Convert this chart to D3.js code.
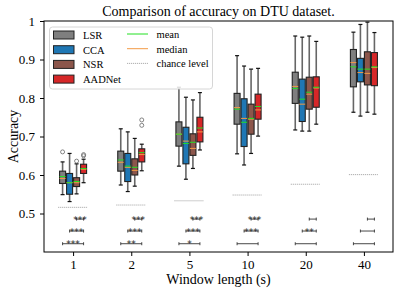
<!DOCTYPE html>
<html>
<head>
<meta charset="utf-8">
<script src="https://cdn.jsdelivr.net/npm/d3@7/dist/d3.min.js"></script>
<style>
  body { margin: 0; background: #fff; }
  svg { font-family: "Liberation Serif", "DejaVu Serif", serif; }
</style>
</head>
<body>
<script>
// window lengths (categories) and methods (hue)
var windows = ["1", "2", "5", "10", "20", "40"];
var methods = ["LSR", "CCA", "NSR", "AADNet"];
var colors = ["#7f7f7f", "#1f77b4", "#8c564b", "#d62728"];

// box stats per window: [whiskerLow, q1, median, q3, whiskerHigh, mean]
var lsrStats = [
  [0.549, 0.578, 0.591, 0.610, 0.634, 0.596],
  [0.574, 0.610, 0.633, 0.662, 0.720, 0.639],
  [0.623, 0.675, 0.706, 0.738, 0.828, 0.706],
  [0.655, 0.732, 0.775, 0.812, 0.910, 0.771],
  [0.717, 0.786, 0.830, 0.867, 0.961, 0.825],
  [0.763, 0.829, 0.892, 0.926, 0.971, 0.881]
];
var ccaStats = [
  [0.531, 0.550, 0.580, 0.604, 0.656, 0.580],
  [0.557, 0.583, 0.620, 0.656, 0.712, 0.623],
  [0.589, 0.629, 0.688, 0.724, 0.802, 0.682],
  [0.626, 0.674, 0.747, 0.798, 0.883, 0.737],
  [0.714, 0.739, 0.784, 0.849, 0.958, 0.797],
  [0.753, 0.842, 0.866, 0.903, 0.991, 0.875]
];
var nsrStats = [
  [0.551, 0.570, 0.580, 0.593, 0.629, 0.583],
  [0.571, 0.600, 0.612, 0.642, 0.695, 0.620],
  [0.617, 0.651, 0.669, 0.707, 0.795, 0.685],
  [0.656, 0.706, 0.745, 0.784, 0.875, 0.747],
  [0.714, 0.771, 0.810, 0.854, 0.961, 0.815],
  [0.763, 0.834, 0.864, 0.920, 0.997, 0.875]
];
var aadnetStats = [
  [0.580, 0.604, 0.615, 0.628, 0.641, 0.617],
  [0.611, 0.634, 0.653, 0.668, 0.680, 0.658],
  [0.665, 0.686, 0.712, 0.750, 0.814, 0.722],
  [0.701, 0.745, 0.769, 0.810, 0.877, 0.778],
  [0.732, 0.776, 0.826, 0.855, 0.947, 0.828],
  [0.758, 0.832, 0.879, 0.918, 0.970, 0.881]
];
var allStats = [lsrStats, ccaStats, nsrStats, aadnetStats];

// outliers: [window index, method index, value]
var outliers = [
  [0, 0, 0.660], [0, 2, 0.636], [0, 3, 0.650], [0, 3, 0.653],
  [1, 3, 0.729], [1, 3, 0.743]
];

var chanceLevel = [0.516, 0.522, 0.533, 0.548, 0.576, 0.601];

// significance of AADNet vs each baseline
var sigVsNSR = ["***", "***", "***", "***", "", ""];
var sigVsCCA = ["***", "***", "***", "***", "**", ""];
var sigVsLSR = ["***", "**", "*", "", "", ""];

var yTicks = [0.5, 0.6, 0.7, 0.8, 0.9, 1];

var W = 399, H = 292;
var margin = {left: 44, right: 6, top: 21, bottom: 40};

var svg = d3.select("body").append("svg")
  .attr("width", W).attr("height", H);

var x = d3.scalePoint().domain(windows)
  .range([margin.left, W - margin.right]).padding(0.5);
var y = d3.scaleLinear().domain([0.4, 1])
  .range([H - margin.bottom, margin.top]);

var hueStep = 7, boxW = 6, capW = 4;
function cx(i, j){ return x(windows[i]) + (j - 1.5) * hueStep; }

// chance level lines
svg.append("g").selectAll("line").data(chanceLevel).enter().append("line")
  .attr("x1", function(d, i){ return x(windows[i]) - 15; })
  .attr("x2", function(d, i){ return x(windows[i]) + 14; })
  .attr("y1", function(d){ return y(d); })
  .attr("y2", function(d){ return y(d); })
  .style("stroke", "#999").style("stroke-width", 0.8)
  .style("stroke-dasharray", "1.2,0.8");

// boxes
var boxG = svg.append("g");
allStats.forEach(function(stats, j){
  var g = boxG.append("g").selectAll("g").data(stats).enter().append("g");
  // whiskers
  g.append("line")
    .attr("x1", function(d, i){ return cx(i, j); })
    .attr("x2", function(d, i){ return cx(i, j); })
    .attr("y1", function(d){ return y(d[0]); })
    .attr("y2", function(d){ return y(d[4]); })
    .style("stroke", "#666").style("stroke-width", 1.6);
  // caps
  [0, 4].forEach(function(k){
    g.append("line")
      .attr("x1", function(d, i){ return cx(i, j) - capW / 2; })
      .attr("x2", function(d, i){ return cx(i, j) + capW / 2; })
      .attr("y1", function(d){ return y(d[k]); })
      .attr("y2", function(d){ return y(d[k]); })
      .style("stroke", "#111").style("stroke-width", 1.2);
  });
  // box
  g.append("rect")
    .attr("x", function(d, i){ return cx(i, j) - boxW / 2; })
    .attr("y", function(d){ return y(d[3]); })
    .attr("width", boxW)
    .attr("height", function(d){ return y(d[1]) - y(d[3]); })
    .style("fill", colors[j])
    .style("stroke", "#222").style("stroke-width", 1.1);
  // median
  g.append("line")
    .attr("x1", function(d, i){ return cx(i, j) - boxW / 2; })
    .attr("x2", function(d, i){ return cx(i, j) + boxW / 2; })
    .attr("y1", function(d){ return y(d[2]); })
    .attr("y2", function(d){ return y(d[2]); })
    .style("stroke", "#f39a45").style("stroke-width", 1);
  // mean
  g.append("line")
    .attr("x1", function(d, i){ return cx(i, j) - boxW / 2; })
    .attr("x2", function(d, i){ return cx(i, j) + boxW / 2; })
    .attr("y1", function(d){ return y(d[5]); })
    .attr("y2", function(d){ return y(d[5]); })
    .style("stroke", "#22e022").style("stroke-width", 1);
});

// outliers
svg.append("g").selectAll("circle").data(outliers).enter().append("circle")
  .attr("cx", function(d){ return cx(d[0], d[1]); })
  .attr("cy", function(d){ return y(d[2]); })
  .attr("r", 2)
  .style("fill", "none").style("stroke", "#666").style("stroke-width", 0.8);

// significance brackets: rows for NSR, CCA, LSR vs AADNet
var sigRows = [
  {from: 2, marks: sigVsNSR, yv: 0.4855},
  {from: 1, marks: sigVsCCA, yv: 0.4545},
  {from: 0, marks: sigVsLSR, yv: 0.4215}
];
var sigG = svg.append("g");
sigRows.forEach(function(row){
  windows.forEach(function(w, i){
    var x1 = cx(i, row.from), x2 = cx(i, 3), yy = y(row.yv);
    sigG.append("line").attr("x1", x1).attr("x2", x2)
      .attr("y1", yy).attr("y2", yy)
      .style("stroke", "#333").style("stroke-width", 0.9);
    [x1, x2].forEach(function(xx){
      sigG.append("line").attr("x1", xx).attr("x2", xx)
        .attr("y1", yy - 1.5).attr("y2", yy + 1.5)
        .style("stroke", "#333").style("stroke-width", 0.9);
    });
    if (row.marks[i]) {
      sigG.append("text").attr("x", (x1 + x2) / 2).attr("y", yy + 3.5)
        .attr("text-anchor", "middle")
        .style("font-family", "DejaVu Sans, sans-serif")
        .style("font-size", "9px").style("fill", "#222")
        .text(row.marks[i]);
    }
  });
});

// axes
var yAxis = d3.axisLeft(y).tickValues(yTicks).tickSize(4).tickPadding(5)
  .tickFormat(function(d){ return d === 1 ? "1" : d3.format(".1f")(d); });
var xAxis = d3.axisBottom(x).tickSize(4).tickPadding(4);

var gy = svg.append("g").attr("transform", "translate(" + margin.left + ",0)").call(yAxis);
var gx = svg.append("g").attr("transform", "translate(0," + (H - margin.bottom) + ")").call(xAxis);
[gx, gy].forEach(function(g){
  g.select(".domain").remove();
  g.selectAll("text").style("font-family", "Liberation Serif, serif")
    .style("font-size", "13px").style("fill", "#000");
  g.selectAll(".tick line").style("stroke", "#000");
});

// frame
svg.append("rect")
  .attr("x", margin.left).attr("y", margin.top)
  .attr("width", W - margin.right - margin.left)
  .attr("height", H - margin.bottom - margin.top)
  .style("fill", "none").style("stroke", "#000").style("stroke-width", 1);

// titles
svg.append("text").attr("x", (margin.left + W - margin.right) / 2).attr("y", 16)
  .attr("text-anchor", "middle").style("font-size", "14px")
  .text("Comparison of accuracy on DTU dataset.");
svg.append("text").attr("x", (margin.left + W - margin.right) / 2).attr("y", 284)
  .attr("text-anchor", "middle").style("font-size", "14px")
  .text("Window length (s)");
svg.append("text")
  .attr("transform", "translate(18," + ((margin.top + H - margin.bottom) / 2) + ") rotate(-90)")
  .attr("text-anchor", "middle").style("font-size", "14px")
  .text("Accuracy");

// legend
var leg = svg.append("g");
leg.append("rect").attr("x", 49.5).attr("y", 27).attr("width", 163).attr("height", 62)
  .attr("rx", 3)
  .style("fill", "#fff").style("fill-opacity", 0.85)
  .style("stroke", "#ccc").style("stroke-width", 0.8);
methods.forEach(function(m, j){
  var yy = 35 + j * 14.7;
  leg.append("rect").attr("x", 53.5).attr("y", yy - 4).attr("width", 20.5).attr("height", 8)
    .style("fill", colors[j]).style("stroke", "#222").style("stroke-width", 1);
  leg.append("text").attr("x", 83).attr("y", yy + 4)
    .style("font-size", "10.5px").text(m);
});
var lineItems = [
  {label: "mean", color: "#22e022", dash: null, w: 1},
  {label: "median", color: "#f39a45", dash: null, w: 1},
  {label: "chance level", color: "#999", dash: "1.2,0.8", w: 0.8}
];
lineItems.forEach(function(it, k){
  var yy = 34 + k * 14.7;
  leg.append("line").attr("x1", 127).attr("x2", 148).attr("y1", yy).attr("y2", yy)
    .style("stroke", it.color).style("stroke-width", it.w)
    .style("stroke-dasharray", it.dash);
  leg.append("text").attr("x", 156.5).attr("y", yy + 4)
    .style("font-size", "10.5px").text(it.label);
});
</script>
</body>
</html>
